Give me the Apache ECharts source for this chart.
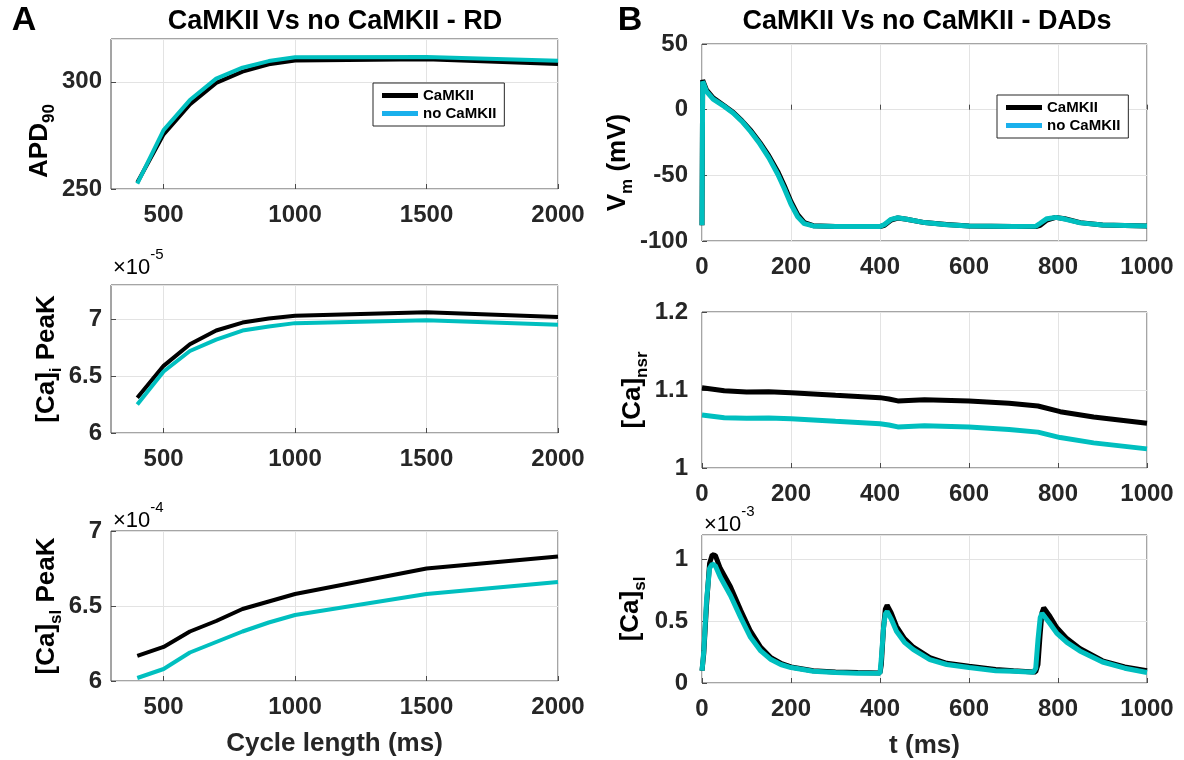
<!DOCTYPE html>
<html>
<head>
<meta charset="utf-8">
<script src="https://cdn.jsdelivr.net/npm/echarts@6/dist/echarts.min.js"></script>
<style>
  html, body { margin: 0; background: #fff; }
  #main { width: 1184px; height: 760px; }
</style>
</head>
<body>
<div id="main"></div>
<script>
// ---- data ----
// panel A: restitution vs cycle length
var cycleLen = [400, 500, 600, 700, 800, 900, 1000, 1500, 2000];
var cycleTicks = [500, 1000, 1500, 2000];
var apdCaMKII = [253, 275.5, 289.5, 299.5, 304.8, 308.2, 310, 310.6, 308.3];
var apdNoCaMKII = [252.5, 277.5, 291.5, 301.5, 306.6, 309.7, 311.5, 311.6, 309.8];
// [Ca]i peak, units of 1e-5
var caiCaMKII = [6.31, 6.59, 6.78, 6.90, 6.97, 7.005, 7.03, 7.06, 7.02];
var caiNoCaMKII = [6.25, 6.54, 6.72, 6.82, 6.90, 6.935, 6.965, 6.99, 6.95];
// [Ca]sl peak, units of 1e-4
var caslPkCaMKII = [6.167, 6.227, 6.33, 6.40, 6.48, 6.53, 6.58, 6.75, 6.83];
var caslPkNoCaMKII = [6.02, 6.08, 6.19, 6.26, 6.33, 6.39, 6.44, 6.58, 6.66];

// panel B: time courses with DADs
var vmT = [0, 1.5, 4, 10, 25, 50, 70, 90, 110, 130, 150, 170, 185, 200, 215, 230, 250, 300, 400, 410,
  425, 440, 460, 500, 550, 600, 700, 750, 760, 775, 795, 815, 850, 900, 1000];
var vmCaMKII = [-88, 22.5, 21, 15, 9, 3, -2, -8.5, -16, -25, -35, -47, -58, -70, -80, -86, -88.3, -89, -89, -88,
  -84, -82.5, -83.5, -86, -87.5, -88.5, -89, -89, -88, -84, -82, -83, -86, -87.8, -88.5];
var vmNoCaMKII = [-88, 21.5, 19.5, 14, 8, 2.5, -2.5, -9, -17, -26, -36.5, -49, -60, -72, -81.5, -86.8, -88.5, -89, -89, -87.5,
  -83.5, -82.3, -83.5, -86, -87.6, -88.5, -89, -88.8, -86.5, -83, -82, -83.3, -86.2, -87.9, -88.6];

var nsrT = [0, 50, 100, 150, 200, 300, 400, 420, 440, 500, 600, 690, 755, 805, 880, 1000];
var nsrCaMKII = [1.103, 1.099, 1.0975, 1.0978, 1.0966, 1.0932, 1.0902, 1.0885, 1.0860, 1.0876, 1.0860, 1.0829, 1.0795, 1.0722, 1.0654, 1.0573];
var nsrNoCaMKII = [1.068, 1.0645, 1.0638, 1.0640, 1.0630, 1.0598, 1.0568, 1.0552, 1.0527, 1.0542, 1.0527, 1.0495, 1.0460, 1.0390, 1.0322, 1.0245];

// [Ca]sl, units of 1e-3
var slT = [0, 4, 10, 17, 23, 30, 41, 64, 87, 109, 132, 155, 177, 200, 250, 300, 350, 400, 403, 408,
  412, 416, 425, 437, 455, 475, 512, 550, 600, 660, 700, 745, 750, 755, 760, 764, 768, 780, 797, 820,
  849, 900, 950, 1000];
var slCaMKII = [0.10, 0.24, 0.62, 0.97, 1.04, 1.035, 0.93, 0.78, 0.59, 0.42, 0.29, 0.205, 0.16, 0.13, 0.10, 0.09, 0.085, 0.082, 0.15, 0.45,
  0.60, 0.63, 0.57, 0.46, 0.36, 0.29, 0.205, 0.16, 0.135, 0.11, 0.10, 0.09, 0.09, 0.15, 0.40, 0.57, 0.61, 0.55, 0.45, 0.36,
  0.28, 0.18, 0.13, 0.10];
var slNoCaMKII = [0.10, 0.26, 0.66, 0.93, 0.965, 0.95, 0.86, 0.71, 0.53, 0.37, 0.26, 0.19, 0.15, 0.125, 0.095, 0.085, 0.08, 0.08, 0.20, 0.45,
  0.56, 0.58, 0.52, 0.42, 0.33, 0.27, 0.19, 0.15, 0.125, 0.10, 0.095, 0.088, 0.12, 0.35, 0.53, 0.565, 0.55, 0.49, 0.405, 0.33,
  0.26, 0.17, 0.12, 0.085];

// ---- styling ----
var BLACK = '#000000';
var TEAL = '#00bfbf';
var LEGEND_BLUE = '#1ab0ec';
var FONT = 'Liberation Sans';

var tickLabel = {
  fontFamily: FONT, fontWeight: 'bold', fontSize: 24, color: '#262626',
  formatter: function (v) { return String(+v.toFixed(4)); }
};
var nameRich = {
  m: { fontFamily: FONT, fontWeight: 'bold', fontSize: 26, lineHeight: 26, color: '#000', verticalAlign: 'top' },
  s: { fontFamily: FONT, fontWeight: 'bold', fontSize: 17, lineHeight: 17, color: '#000', verticalAlign: 'top', padding: [14, 0, 0, 0] }
};

var grids = [
  { left: 111, top: 39, width: 447, height: 150 },
  { left: 111, top: 285, width: 447, height: 148 },
  { left: 111, top: 531, width: 447, height: 150 },
  { left: 702, top: 44, width: 445, height: 197 },
  { left: 702, top: 312, width: 445, height: 156 },
  { left: 702, top: 535, width: 445, height: 150 }
];
grids.forEach(function (g) {
  g.show = true;
  g.borderColor = '#4a4a4a';
  g.borderWidth = 1;
  g.backgroundColor = '#fff';
});

function pairs(xs, ys) {
  return xs.map(function (x, i) { return [x, ys[i]]; });
}

function xAx(idx, min, max, extra) {
  var a = {
    type: 'value', gridIndex: idx, min: min, max: max,
    axisLine: { show: false },
    axisTick: { show: true, inside: true, length: 5, lineStyle: { color: '#4a4a4a' } },
    axisLabel: Object.assign({ margin: 14 }, tickLabel),
    splitLine: { show: true, lineStyle: { color: '#e3e3e3', width: 1 } }
  };
  return Object.assign(a, extra || {});
}

function yAx(idx, min, max, interval, margin, name, nameGap, namePad) {
  return {
    type: 'value', gridIndex: idx, min: min, max: max, interval: interval,
    axisLine: { show: false },
    axisTick: { show: true, inside: true, length: 5, lineStyle: { color: '#4a4a4a' } },
    axisLabel: Object.assign({ margin: margin, showMaxLabel: min + Math.round((max - min) / interval) * interval === max }, tickLabel),
    splitLine: { show: true, lineStyle: { color: '#e3e3e3', width: 1 } },
    name: name, nameLocation: 'middle', nameRotate: 90, nameGap: nameGap,
    nameTextStyle: { rich: nameRich, padding: namePad || 0 }
  };
}

var cycleAxisExtra = {
  axisLabel: Object.assign({ margin: 14, customValues: cycleTicks }, tickLabel),
  axisTick: { show: true, inside: true, length: 5, lineStyle: { color: '#4a4a4a' }, customValues: cycleTicks }
};
var xName = { fontFamily: FONT, fontWeight: 'bold', fontSize: 26, color: '#262626' };

var xAxes = [
  xAx(0, 300, 2000, cycleAxisExtra),
  xAx(1, 300, 2000, cycleAxisExtra),
  xAx(2, 300, 2000, Object.assign({ name: 'Cycle length (ms)', nameLocation: 'middle', nameGap: 50, nameTextStyle: xName }, cycleAxisExtra)),
  xAx(3, 0, 1000, { interval: 200 }),
  xAx(4, 0, 1000, { interval: 200 }),
  xAx(5, 0, 1000, { interval: 200, name: 't (ms)', nameLocation: 'middle', nameGap: 50, nameTextStyle: xName })
];

var yAxes = [
  yAx(0, 250, 320, 50, 9, '{m|APD}{s|90}', 58, [0, 54, 0, 0]),
  yAx(1, 6, 7.3, 0.5, 9, '{m|[Ca]}{s|i}{m| PeaK}', 44),
  yAx(2, 6, 7, 0.5, 9, '{m|[Ca]}{s|sl}{m| PeaK}', 44),
  yAx(3, -100, 50, 50, 14, '{m|V}{s|m}{m| (mV)}', 54, [0, 40, 0, 0]),
  yAx(4, 1, 1.2, 0.1, 14, '{m|[Ca]}{s|nsr}', 56),
  yAx(5, 0, 1.2, 0.5, 14, '{m|[Ca]}{s|sl}', 58)
];

function line(name, idx, xs, ys, color, width) {
  return {
    name: name, type: 'line', xAxisIndex: idx, yAxisIndex: idx,
    data: pairs(xs, ys), showSymbol: false, symbol: 'none',
    lineStyle: { color: color, width: width }, itemStyle: { color: color },
    emphasis: { disabled: true }
  };
}

var series = [
  line('CaMKII', 0, cycleLen, apdCaMKII, BLACK, 4),
  line('no CaMKII', 0, cycleLen, apdNoCaMKII, TEAL, 4),
  line('CaMKII', 1, cycleLen, caiCaMKII, BLACK, 4),
  line('no CaMKII', 1, cycleLen, caiNoCaMKII, TEAL, 4),
  line('CaMKII', 2, cycleLen, caslPkCaMKII, BLACK, 4),
  line('no CaMKII', 2, cycleLen, caslPkNoCaMKII, TEAL, 4),
  line('CaMKII', 3, vmT, vmCaMKII, BLACK, 5),
  line('no CaMKII', 3, vmT, vmNoCaMKII, TEAL, 5),
  line('CaMKII', 4, nsrT, nsrCaMKII, BLACK, 5),
  line('no CaMKII', 4, nsrT, nsrNoCaMKII, TEAL, 5),
  line('CaMKII', 5, slT, slCaMKII, BLACK, 5),
  line('no CaMKII', 5, slT, slNoCaMKII, TEAL, 5)
];

function legendAt(left, top) {
  return {
    left: left, top: top, orient: 'vertical',
    data: [
      { name: 'CaMKII', itemStyle: { color: BLACK } },
      { name: 'no CaMKII', itemStyle: { color: LEGEND_BLUE } }
    ],
    icon: 'rect', itemWidth: 36, itemHeight: 5, itemGap: 3,
    padding: [5, 8, 5, 9],
    borderColor: '#262626', borderWidth: 1, backgroundColor: '#fff',
    selectedMode: false,
    textStyle: { fontFamily: FONT, fontWeight: 'bold', fontSize: 15, color: '#000' }
  };
}

var supRich = {
  a: { fontFamily: FONT, fontSize: 22, color: '#262626', padding: [9, 0, 0, 0], verticalAlign: 'top' },
  b: { fontFamily: FONT, fontSize: 15, color: '#262626', verticalAlign: 'top' }
};
function txt(x, y, text, size, align) {
  return {
    type: 'text', x: x, y: y, z: 10,
    style: { text: text, fontFamily: FONT, fontWeight: 'bold', fontSize: size, fill: '#000', align: align || 'center', verticalAlign: 'middle' }
  };
}
function mult(x, y, exp) {
  return {
    type: 'text', x: x, y: y, z: 10,
    style: { text: '{a|\u00d710}{b|' + exp + '}', rich: supRich, align: 'left', verticalAlign: 'middle' }
  };
}

var chart = echarts.init(document.getElementById('main'));
chart.setOption({
  animation: false,
  backgroundColor: '#fff',
  grid: grids,
  xAxis: xAxes,
  yAxis: yAxes,
  legend: [legendAt(373, 83), legendAt(997, 95)],
  series: series,
  graphic: [
    txt(24, 21, 'A', 34),
    txt(630, 21, 'B', 34),
    txt(335, 22, 'CaMKII Vs no CaMKII - RD', 27),
    txt(927, 22, 'CaMKII Vs no CaMKII - DADs', 27),
    mult(113, 263, '-5'),
    mult(113, 516, '-4'),
    mult(704, 520, '-3')
  ]
});
</script>
</body>
</html>
